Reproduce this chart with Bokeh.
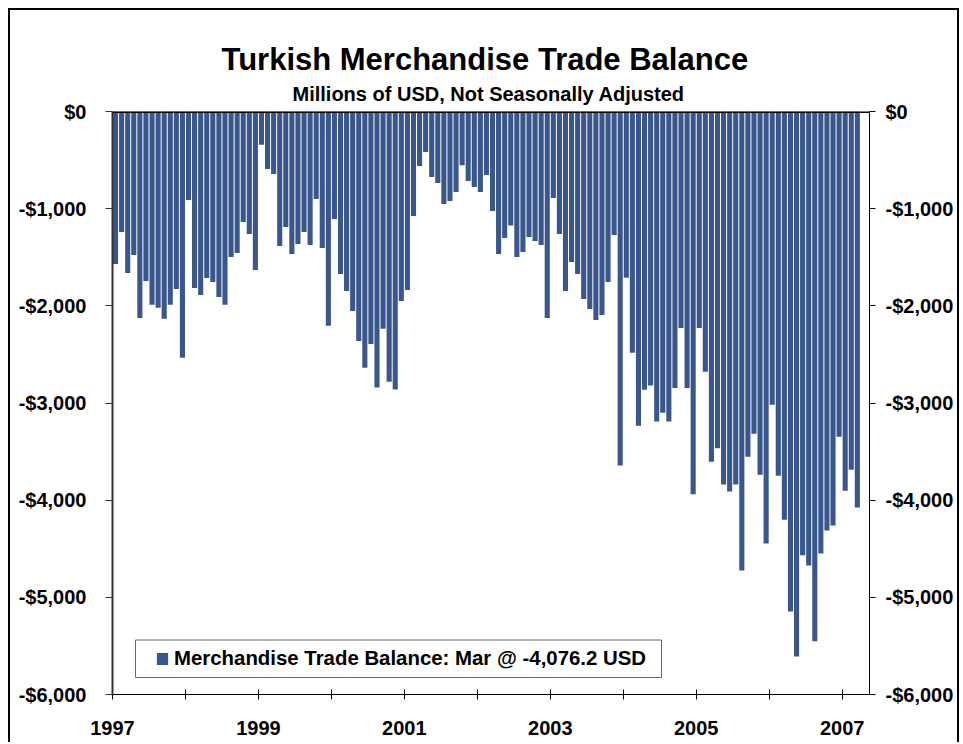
import numpy as np
import pandas as pd
from bokeh.plotting import figure
from bokeh.models import (Range1d, LinearAxis, FixedTicker, CustomJSTickFormatter,
                          Span, Legend, LegendItem, BoxAnnotation, ColumnDataSource, Title)
from bokeh.embed import file_html
from bokeh.resources import INLINE

# ---------------- data ----------------
start_month = "1997-01"
balance = [
    # 1997
    -1570, -1240, -1662, -1477, -2124, -1744, -1990, -2021, -2134, -1990, -1826, -2535,
    # 1998
    -911, -1816, -1888, -1713, -1754, -1908, -1990, -1497, -1456, -1137, -1261, -1631,
    # 1999
    -342, -593, -644, -1384, -1189, -1467, -1364, -1240, -1374, -901, -1405, -2206,
    # 2000
    -1107, -1672, -1847, -2052, -2361, -2638, -2392, -2840, -2237, -2782, -2860, -1950,
    # 2001
    -1837, -1076, -562, -418, -675, -737, -953, -922, -829, -552, -716, -778,
    # 2002
    -829, -654, -1024, -1467, -1302, -1172, -1497, -1446, -1292, -1333, -1374, -2124,
    # 2003
    -891, -1261, -1847, -1549, -1672, -1929, -2032, -2145, -2094, -1754, -1271, -3643,
    # 2004
    -1712, -2483, -3234, -2864, -2821, -3191, -3101, -3191, -2845, -2227, -2845, -3938,
    # 2005
    -2227, -2679, -3604, -3466, -3840, -3911, -3840, -4725, -3553, -3317, -3738, -4446,
    # 2006
    -3017, -3749, -4201, -5146, -5609, -4567, -4673, -5452, -4548, -4311, -4261, -3348,
    # 2007
    -3902, -3687, -4076.2,
]
y_ticks = [0, -1000, -2000, -3000, -4000, -5000, -6000]
title_text = "Turkish Merchandise Trade Balance"
subtitle_text = "Millions of USD, Not Seasonally Adjusted"
series_name = "Merchandise Trade Balance"

months = pd.period_range(start_month, periods=len(balance), freq="M")
start_year = months[0].year
x = np.arange(len(balance)) + 0.5
legend_label = f"{series_name}: {months[-1].strftime('%b')} @ {balance[-1]:,.1f} USD"

BAR = "#39578C"
FONT = "Liberation Sans"

src = ColumnDataSource(dict(x=x, top=balance))

p = figure(width=951, height=734, output_backend="svg", toolbar_location=None,
           x_range=Range1d(0, 124.5), y_range=Range1d(-6000, 0),
           min_border_left=102, min_border_right=92, min_border_top=101, min_border_bottom=50)
p.margin = (8, 0, 0, 8)
p.styles = {"border-top": "2px solid black", "border-left": "2px solid black",
            "border-right": "2px solid black"}
p.outline_line_color = None
p.xgrid.visible = False
p.ygrid.visible = False
p.background_fill_color = "white"
p.border_fill_color = "white"

r = p.vbar(x="x", top="top", bottom=0, width=0.84, source=src,
           fill_color=BAR, line_color=None)

# titles (subtitle first -> closest to frame)
p.add_layout(Title(text=subtitle_text, align="left", offset=180, text_font=FONT,
                   text_font_size="20px", text_font_style="bold", text_color="black",
                   standoff=14), "above")
p.add_layout(Title(text=title_text, align="left", offset=109, text_font=FONT,
                   text_font_size="31px", text_font_style="bold", text_color="black",
                   standoff=-6), "above")

fmt = CustomJSTickFormatter(code="""
    const v = Math.abs(Math.round(tick));
    return (tick < 0 ? '-' : '') + '$' + v.toLocaleString('en-US');
""")

# left axis
yax = p.yaxis[0]
yax.ticker = FixedTicker(ticks=y_ticks)
yax.formatter = fmt
yax.major_tick_out = 7
yax.major_tick_in = 0
yax.minor_tick_out = 0
yax.minor_tick_in = 0
yax.axis_line_width = 2
yax.axis_line_color = "#333333"
yax.major_tick_line_color = "#333333"
yax.major_label_text_font = FONT
yax.major_label_text_font_size = "20px"
yax.major_label_text_font_style = "bold"
yax.major_label_text_color = "black"
yax.major_label_standoff = 19

# right axis
rax = LinearAxis(ticker=FixedTicker(ticks=y_ticks), formatter=fmt)
rax.major_tick_out = 6
rax.major_tick_in = 0
rax.minor_tick_out = 0
rax.minor_tick_in = 0
rax.axis_line_width = 1
rax.axis_line_color = "black"
rax.major_tick_line_color = "black"
rax.major_label_text_font = FONT
rax.major_label_text_font_size = "20px"
rax.major_label_text_font_style = "bold"
rax.major_label_text_color = "black"
rax.major_label_standoff = 10
p.add_layout(rax, "right")

# bottom axis: a tick every January, a label every second year
n_years = len(balance) // 12 + 1
year_ticks = [12 * k for k in range(n_years)]
xax = p.xaxis[0]
xax.ticker = FixedTicker(ticks=year_ticks[::2], minor_ticks=year_ticks[1::2])
xax.formatter = CustomJSTickFormatter(args=dict(y0=start_year),
                                      code="return String(y0 + Math.round(tick / 12));")
xax.major_tick_in = 5
xax.major_tick_out = 5
xax.minor_tick_in = 5
xax.minor_tick_out = 5
xax.axis_line_width = 1
xax.axis_line_color = "black"
xax.major_tick_line_color = "black"
xax.minor_tick_line_color = "black"
xax.major_label_text_font = FONT
xax.major_label_text_font_size = "20px"
xax.major_label_text_font_style = "bold"
xax.major_label_text_color = "black"
xax.major_label_standoff = 21

# heavy line at zero
p.add_layout(Span(location=0, dimension="width", line_color="black", line_width=3))

# legend frame + legend
p.add_layout(BoxAnnotation(left=23, right=549, bottom=17, top=54.5,
                           left_units="screen", right_units="screen",
                           bottom_units="screen", top_units="screen",
                           fill_color="white", fill_alpha=1.0,
                           line_color="#666666", line_width=1, line_alpha=1.0))
legend = Legend(items=[LegendItem(label=legend_label, renderers=[r])],
                location=(43, 24), padding=0, margin=0, spacing=0,
                glyph_width=14, glyph_height=15, label_standoff=5, label_height=15,
                label_text_font=FONT, label_text_font_size="20.4px",
                label_text_font_style="bold", label_text_color="black",
                background_fill_alpha=0, border_line_alpha=0)
p.add_layout(legend)

open("out.html", "w").write(file_html(p, INLINE))
